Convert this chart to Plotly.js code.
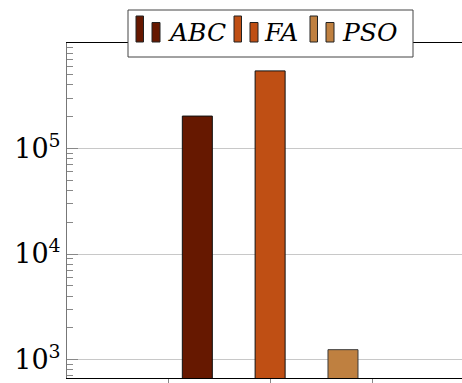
<!DOCTYPE html>
<html>
<head>
<meta charset="utf-8">
<script src="https://cdn.plot.ly/plotly-3.0.1.min.js"></script>
<style>html,body{margin:0;padding:0;background:#fff;}#chart{width:462px;height:383px;}</style>
</head>
<body>
<div id="chart"></div>
<script>
// Data
const seriesNames = ['ABC', 'FA', 'PSO'];
const seriesValues = [203000, 544000, 1240];
const groupX = 2;
const yTickVals = [1e3, 1e4, 1e5];
const yTickText = ['10<sup>3</sup>', '10<sup>4</sup>', '10<sup>5</sup>'];
const xTickVals = [1, 2, 3];

// Styles
const serif = '"DejaVu Serif", serif';
const colors = ['#661800', '#BF4F14', '#BF8040'];
const outline = ['#111111', '#111111', '#3a3a3a'];
const offsets = [-0.86, -0.147, 0.567];
const barWidth = 0.294;

const traces = seriesNames.map((n, i) => ({
  type: 'bar',
  name: n,
  x: [groupX],
  y: [seriesValues[i]],
  width: [barWidth],
  offset: [offsets[i]],
  marker: {color: colors[i], line: {color: outline[i], width: 1}},
  showlegend: false,
  hoverinfo: 'none'
}));

// custom legend (two-bar icons like pgfplots)
const L = 67, T = 43, W = 395, H = 335;
const px = v => (v - L) / W;
const py = v => (T + H - v) / H;
const shapes = [];
const annotations = [];
shapes.push({type:'rect', xref:'paper', yref:'paper', x0:px(128), x1:px(413), y0:py(57), y1:py(10),
  fillcolor:'#fff', line:{color:'#444', width:1}, layer:'above'});
const iconStarts = [136, 234, 310];
const textStarts = [166, 262, 340];
seriesNames.forEach((n, i) => {
  const s = iconStarts[i];
  shapes.push({type:'rect', xref:'paper', yref:'paper', x0:px(s), x1:px(s+7.5), y0:py(42), y1:py(16),
    fillcolor:colors[i], line:{color:'#222', width:1}, layer:'above'});
  shapes.push({type:'rect', xref:'paper', yref:'paper', x0:px(s+16), x1:px(s+24), y0:py(42), y1:py(22.5),
    fillcolor:colors[i], line:{color:'#222', width:1}, layer:'above'});
  annotations.push({xref:'paper', yref:'paper', x:px(textStarts[i]), y:py(33), xanchor:'left', yanchor:'middle',
    text:'<i>' + n + '</i>', showarrow:false,
    font:{family:serif, size:25, color:'#000'}});
});

const layout = {
  width: 462, height: 383,
  margin: {l: L, r: 0, t: T, b: 383 - T - H, pad: 0},
  paper_bgcolor: '#fff', plot_bgcolor: '#fff',
  barmode: 'overlay',
  showlegend: false,
  xaxis: {
    range: [0.01, 3.88],
    tickvals: xTickVals, showticklabels: false,
    ticks: 'outside', ticklen: 6, tickcolor: '#888', tickwidth: 1,
    showgrid: false, zeroline: false,
    showline: true, linecolor: '#000', linewidth: 1, mirror: true
  },
  yaxis: {
    type: 'log',
    range: [2.825, 6],
    tickvals: yTickVals, ticktext: yTickText,
    ticks: 'inside', ticklen: 11, tickcolor: '#888', tickwidth: 1,
    showgrid: true, gridcolor: '#c8c8c8', gridwidth: 1,
    zeroline: false,
    showline: true, linecolor: '#777', linewidth: 1,
    tickfont: {family: serif, size: 27, color: '#000'},
    minor: {ticks: 'inside', ticklen: 6, tickcolor: '#888', dtick: 'D1', showgrid: false}
  },
  shapes: shapes,
  annotations: annotations
};

Plotly.newPlot('chart', traces, layout, {staticPlot: true, displayModeBar: false});
</script>
</body>
</html>
